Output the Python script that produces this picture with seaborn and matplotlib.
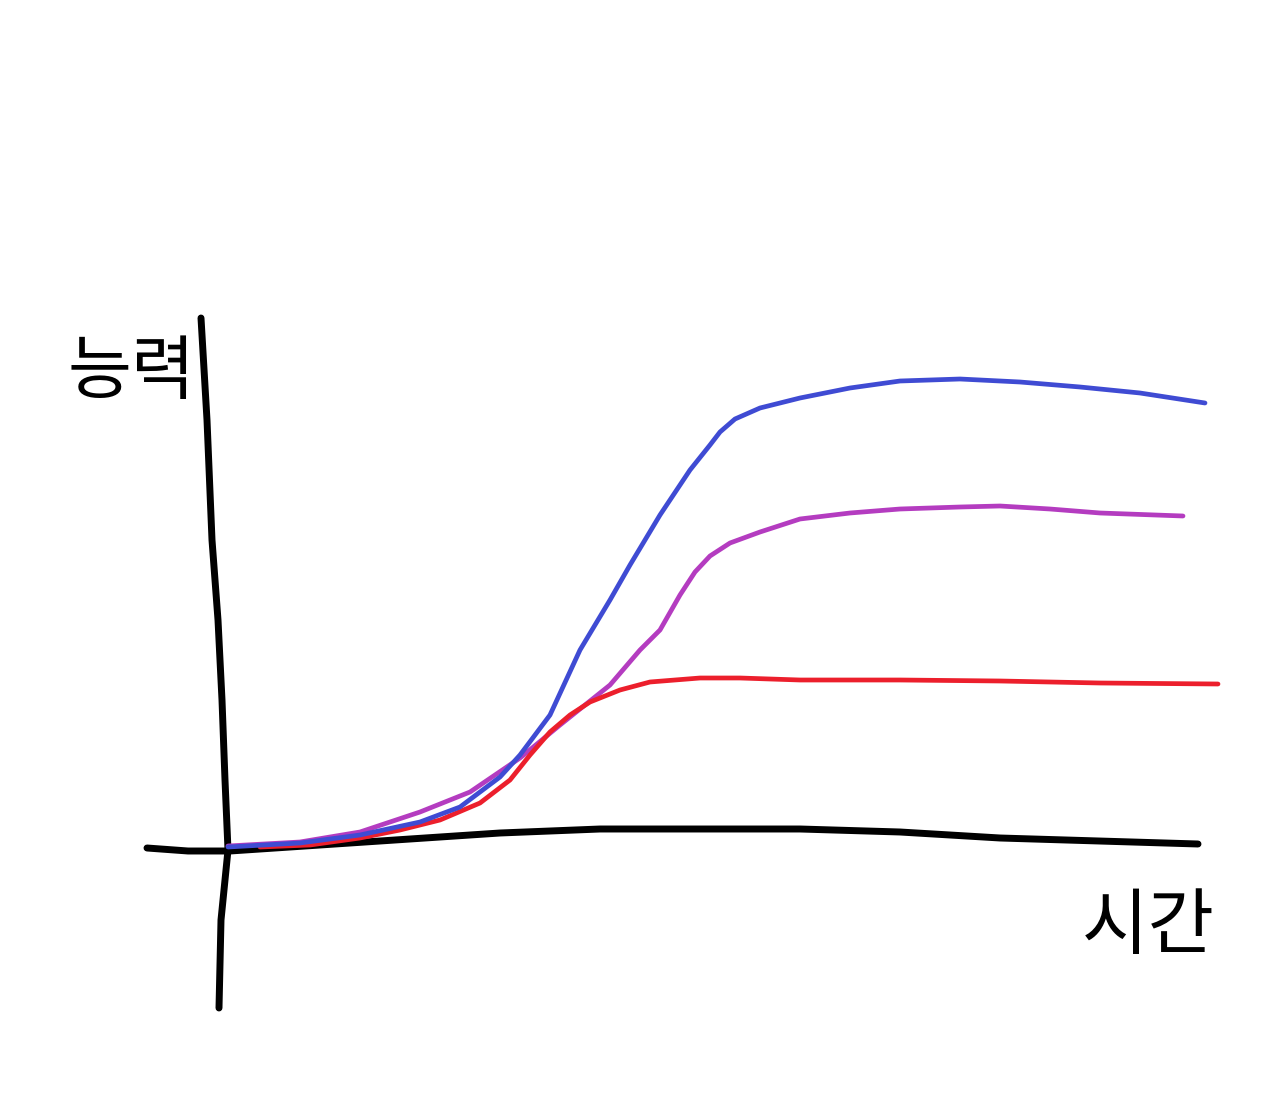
import matplotlib
matplotlib.use("Agg")
import matplotlib.pyplot as plt
import seaborn as sns
import pandas as pd

sns.set_theme(style="white")
plt.rcParams['font.family'] = ['Noto Sans CJK KR', 'DejaVu Sans']

# Blue curve (time, ability)
blue_t = [0, 72, 132, 192, 232, 252, 272, 292, 322, 352, 382, 402, 432, 462, 482, 492, 507, 532, 572, 622, 672, 732, 792, 852, 912, 977]
blue_v = [0, 4, 12, 25, 40, 55, 70, 92, 132, 197, 247, 282, 332, 377, 402, 415, 428, 439, 449, 459, 466, 468, 465, 460, 454, 444]

# Purple curve
purple_t = [0, 72, 132, 192, 242, 292, 332, 382, 412, 432, 452, 467, 482, 502, 532, 572, 622, 672, 732, 772, 822, 872, 955]
purple_v = [1, 5, 15, 35, 55, 89, 122, 162, 197, 217, 252, 275, 291, 304, 315, 328, 334, 338, 340, 341, 338, 334, 331]

# Red curve
red_t = [32, 82, 132, 172, 212, 252, 282, 302, 322, 342, 362, 392, 422, 472, 512, 572, 672, 772, 872, 990]
red_v = [0, 2, 9, 17, 27, 44, 67, 92, 115, 132, 145, 157, 165, 169, 169, 167, 167, 166, 164, 163]

# Hand-drawn axes
xaxis_t = [-81, -40, 2, 122, 272, 372, 572, 672, 772, 970]
xaxis_v = [-1, -4, -4, 4, 14, 18, 18, 15, 9, 3]
yaxis_t = [-27, -21, -16, -10, -6, -3, 0, -7, -9]
yaxis_v = [529, 427, 307, 227, 147, 67, -3, -73, -161]

fig = plt.figure(figsize=(12.8, 11.04), dpi=100)
ax = fig.add_axes([0, 0, 1, 1])
ax.set_xlim(-228, 1052)
ax.set_ylim(-257, 847)
ax.axis('off')

def draw(t, v, color, lw):
    df = pd.DataFrame({'t': t, 'v': v})
    sns.lineplot(data=df, x='t', y='v', ax=ax, color=color, linewidth=lw,
                 sort=False, estimator=None, solid_capstyle='round',
                 solid_joinstyle='round')

draw(xaxis_t, xaxis_v, 'black', 5.0)
draw(yaxis_t, yaxis_v, 'black', 5.0)
draw(purple_t, purple_v, '#b43cc0', 3.4)
draw(red_t, red_v, '#ec1f2c', 3.4)
draw(blue_t, blue_v, '#3f4bd3', 3.4)

ax.text(-97, 474, '능력', fontsize=50, ha='center', va='center', color='black')
ax.text(920, -80, '시간', fontsize=52, ha='center', va='center', color='black')

fig.savefig('out.png', dpi=100)
